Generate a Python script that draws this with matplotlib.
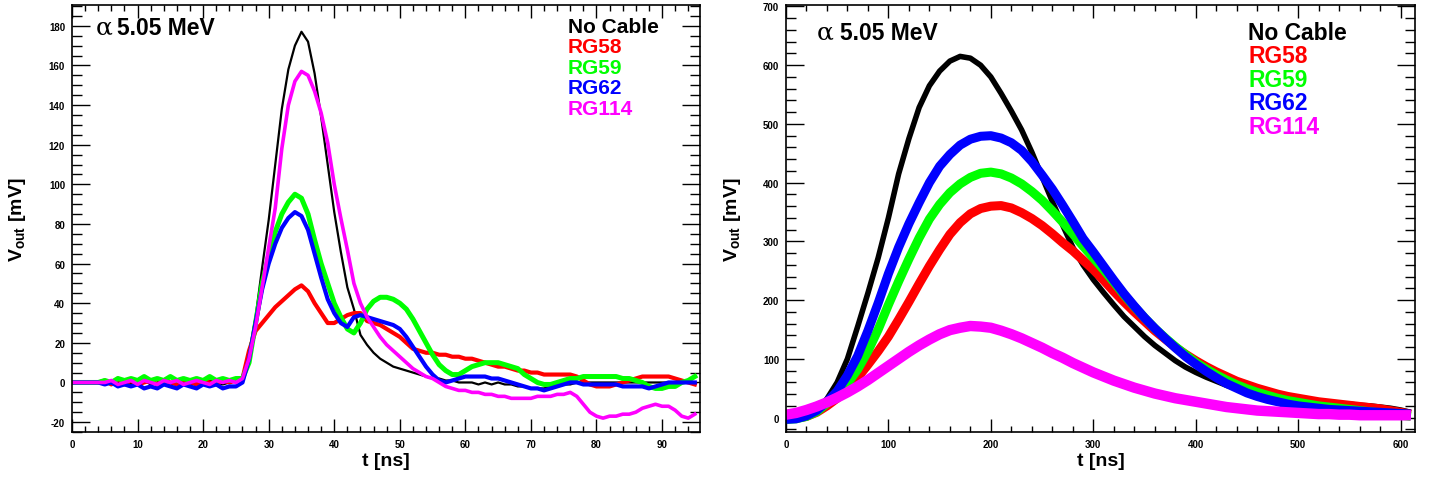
import numpy as np
import matplotlib
matplotlib.use("Agg")
import matplotlib.pyplot as plt
from matplotlib.ticker import MultipleLocator

plt.rcParams["font.family"] = ["Liberation Sans", "DejaVu Sans"]
plt.rcParams["font.weight"] = "bold"
plt.rcParams["axes.unicode_minus"] = False
plt.rcParams["mathtext.fontset"] = "custom"
plt.rcParams["mathtext.rm"] = "Liberation Sans:bold"
plt.rcParams["mathtext.it"] = "Liberation Sans:bold"
plt.rcParams["mathtext.bf"] = "Liberation Sans:bold"

# Left panel: preamp output, 1 ns bins
t_fast = np.arange(0, 96, 1)
v_fast_nocable = [0, 0, 0, 0, 0,
                  0, -1, 0, 1, -1, 0, 1, -1, 0, 1, 0, -1, 1, 0, -1, 0, 1, 0, -1, 0, 1,
                  3, 15, 33, 58, 82, 110, 138, 158, 170, 177, 172, 156, 134, 110, 86, 66, 48, 37, 24,
                  19, 15, 12, 10, 8, 7, 6, 5, 4, 3, 2, 2, 1, 1, 0,
                  0, 0, -1, 0, -1, 0, -1, -1, -2, -2, -3, -3, -3, -2, -2, -1, -1, 0, 0, 0,
                  0, 0, 0, 0, 0, 0, 0, 0, 0, 0, 0, 0, 0, 0, 0, 0]
v_fast_rg58 = [0, 0, 0, 0, 0,
               1, -1, 2, -1, 1, -1, 0, 1, -1, 1, 0, -1, 1, 0, -1, 1, 0, -1, 1, 0, 1,
               2, 16, 26, 30, 34, 38, 41, 44, 47, 49, 46, 40, 35, 30, 30, 32, 34, 35, 35,
               31, 30, 29, 27, 25, 23, 20, 17, 16, 15, 15, 14, 14, 13, 13,
               12, 12, 11, 10, 9, 8, 8, 7, 6, 6, 5, 5, 4, 4, 4, 4, 4, 3, 1, -1,
               -2, -2, -2, -1, 0, 1, 2, 3, 3, 3, 3, 3, 2, 1, 0, -1]
v_fast_rg59 = [0, 0, 0, 0, 0,
               1, 0, 2, 1, 2, 1, 3, 1, 2, 1, 3, 1, 2, 1, 2, 1, 3, 1, 2, 1, 2,
               2, 10, 30, 50, 64, 76, 85, 91, 95, 93, 85, 72, 60, 50, 40, 33, 27, 25, 30,
               37, 41, 43, 43, 42, 40, 37, 32, 26, 20, 14, 9, 6, 4, 4,
               6, 8, 9, 10, 10, 10, 9, 8, 7, 4, 2, 0, -1, -1, 0, 1, 2, 2, 3, 3,
               3, 3, 3, 3, 2, 2, 1, 0, -2, -3, -3, -2, -2, 0, 1, 3]
v_fast_rg62 = [0, 0, 0, 0, 0,
               -1, 0, -2, -1, -2, -1, -3, -2, -3, -1, -2, -3, -1, -2, -3, -1, -2, -1, -3, -2, -2,
               0, 12, 30, 47, 60, 70, 78, 83, 86, 84, 77, 65, 53, 42, 35, 30, 28, 33, 34,
               33, 32, 31, 30, 29, 27, 23, 18, 13, 8, 4, 1, 0, 1, 2,
               3, 3, 3, 3, 2, 2, 1, 0, -1, -2, -3, -3, -4, -3, -2, -1, 0, 0, -1, -1,
               -1, -1, -1, -1, -2, -2, -2, -2, -3, -2, -1, 0, 0, 0, 0, 0]
v_fast_rg114 = [0, 0, 0, 0, 0,
                0, 1, -1, 0, 1, -1, 1, 0, -1, 1, 0, 1, -1, 0, 1, 0, -1, 1, 0, 1, 0,
                2, 12, 28, 48, 68, 88, 118, 140, 152, 157, 155, 147, 136, 121, 100, 83, 67, 50, 40,
                33, 28, 23, 19, 16, 13, 10, 7, 5, 3, 2, 0, -2, -3, -4,
                -4, -5, -5, -6, -6, -7, -7, -8, -8, -8, -8, -7, -7, -7, -6, -6, -5, -7, -11, -15,
                -17, -18, -17, -17, -16, -16, -15, -13, -12, -11, -12, -12, -14, -17, -18, -16]

# Right panel: shaper output, sampled every 10 ns
t_slow = np.arange(0, 620, 10)
v_slow_nocable = [-4, -2, 2, 12, 32, 60, 100, 155, 212, 272,
                  340, 415, 475, 528, 565, 590, 607, 615, 612, 600,
                  580, 552, 522, 490, 452, 410, 368, 328, 290, 260,
                  235, 213, 192, 172, 155, 138, 123, 110, 97, 86,
                  77, 69, 62, 55, 49, 44, 40, 37, 34, 31,
                  29, 27, 26, 25, 24, 23, 21, 20, 18, 16,
                  13, 9]
v_slow_rg58 = [-2, -1, 2, 9, 20, 33, 50, 68, 90, 113,
               138, 167, 197, 228, 258, 286, 312, 332, 347, 356,
               360, 361, 357, 349, 339, 327, 313, 298, 284, 268,
               252, 234, 215, 197, 180, 164, 148, 134, 120, 108,
               97, 87, 78, 70, 62, 56, 50, 45, 40, 36,
               33, 30, 27, 25, 23, 21, 19, 17, 15, 12,
               9, 6]
v_slow_rg59 = [-3, -2, 2, 10, 24, 40, 58, 82, 113, 150,
               192, 232, 270, 306, 338, 363, 383, 398, 409, 416,
               418, 415, 408, 398, 385, 370, 352, 333, 313, 292,
               272, 252, 231, 209, 189, 170, 152, 136, 121, 107,
               94, 83, 73, 64, 56, 49, 43, 38, 33, 29,
               26, 23, 20, 18, 16, 14, 12, 10, 8, 6,
               4, 2]
v_slow_rg62 = [-3, -2, 3, 12, 27, 45, 72, 105, 148, 195,
               245, 290, 330, 366, 400, 428, 448, 464, 474, 479,
               480, 476, 468, 455, 436, 413, 389, 362, 334, 305,
               282, 258, 234, 211, 190, 170, 152, 135, 119, 104,
               91, 79, 68, 58, 50, 42, 36, 31, 27, 23,
               20, 18, 16, 14, 13, 12, 11, 10, 9, 8,
               7, 6]
v_slow_rg114 = [5, 8, 13, 19, 26, 34, 43, 53, 64, 76,
                88, 100, 112, 123, 133, 142, 149, 153, 156, 155,
                153, 148, 142, 135, 127, 119, 110, 102, 93, 85,
                77, 70, 63, 57, 51, 46, 41, 37, 33, 30,
                27, 24, 21, 18, 16, 14, 12, 11, 10, 9,
                8, 7, 6, 6, 5, 5, 4, 4, 4, 4,
                4, 4]

labels = ["No Cable", "RG58", "RG59", "RG62", "RG114"]
colors = ["#000000", "#ff0000", "#00ff00", "#0000ff", "#ff00ff"]


def style_axis(ax, xmaj, xmin, ymaj, ymin):
    ax.xaxis.set_major_locator(MultipleLocator(xmaj))
    ax.xaxis.set_minor_locator(MultipleLocator(xmin))
    ax.yaxis.set_major_locator(MultipleLocator(ymaj))
    ax.yaxis.set_minor_locator(MultipleLocator(ymin))
    ax.tick_params(which="both", direction="in", top=True, right=True, width=1.0, labelsize=7)
    ax.tick_params(axis="y", which="major", length=13, pad=5)
    ax.tick_params(axis="y", which="minor", length=7)
    ax.tick_params(axis="x", which="major", length=9.5, pad=5)
    ax.tick_params(axis="x", which="minor", length=4.5)
    for s in ax.spines.values():
        s.set_linewidth(1.2)
    ax.set_xlabel("t [ns]", fontsize=14, fontweight="bold", va="top")
    ax.set_ylabel("V$_{\\mathrm{out}}$ [mV]", fontsize=14, fontweight="bold")
    ax.xaxis.set_label_coords(0.5, -0.047)


fig = plt.figure(figsize=(14.29, 4.85), dpi=100)

# left: fast signals
ax1 = fig.add_axes([0.0504, 0.1072, 0.4395, 0.8804])
fast = [v_fast_nocable, v_fast_rg58, v_fast_rg59, v_fast_rg62, v_fast_rg114]
fast_lw = [1.6, 3.0, 3.6, 3.0, 2.6]
for v, c, lw in zip(fast, colors, fast_lw):
    ax1.plot(t_fast, v, color=c, lw=lw)
ax1.set_xlim(0, 95.8)
ax1.set_ylim(-25, 190.5)
style_axis(ax1, 10, 2, 20, 5)
ax1.yaxis.set_label_coords(-0.070, 0.5)
ax1.text(0.037, 0.948, "\u03b1", transform=ax1.transAxes, fontsize=18,
         family="DejaVu Serif", fontweight="normal", va="center")
ax1.text(0.0717, 0.948, "5.05 MeV", transform=ax1.transAxes, fontsize=16.5, va="center")
for i, (lab, c) in enumerate(zip(labels, colors)):
    ax1.text(0.789, 0.950 - i * 0.048, lab, color=c, transform=ax1.transAxes,
             fontsize=15, va="center")

# right: shaped signals
ax2 = fig.add_axes([0.5500, 0.1072, 0.4402, 0.8804])
slow = [v_slow_nocable, v_slow_rg58, v_slow_rg59, v_slow_rg62, v_slow_rg114]
slow_lw = [4.0, 6.5, 6.5, 6.5, 7.5]
for v, c, lw in zip(slow, colors, slow_lw):
    ax2.plot(t_slow, v, color=c, lw=lw, solid_capstyle="butt")
ax2.set_xlim(0, 614)
ax2.set_ylim(-24.5, 702.5)
style_axis(ax2, 100, 20, 100, 20)
ax2.yaxis.set_label_coords(-0.068, 0.5)
ax2.text(0.049, 0.936, "\u03b1", transform=ax2.transAxes, fontsize=18,
         family="DejaVu Serif", fontweight="normal", va="center")
ax2.text(0.086, 0.936, "5.05 MeV", transform=ax2.transAxes, fontsize=16.5, va="center")
for i, (lab, c) in enumerate(zip(labels, colors)):
    ax2.text(0.735, 0.9356 - i * 0.055, lab, color=c, transform=ax2.transAxes,
             fontsize=16.5, va="center")

fig.savefig("out.png", dpi=100)
